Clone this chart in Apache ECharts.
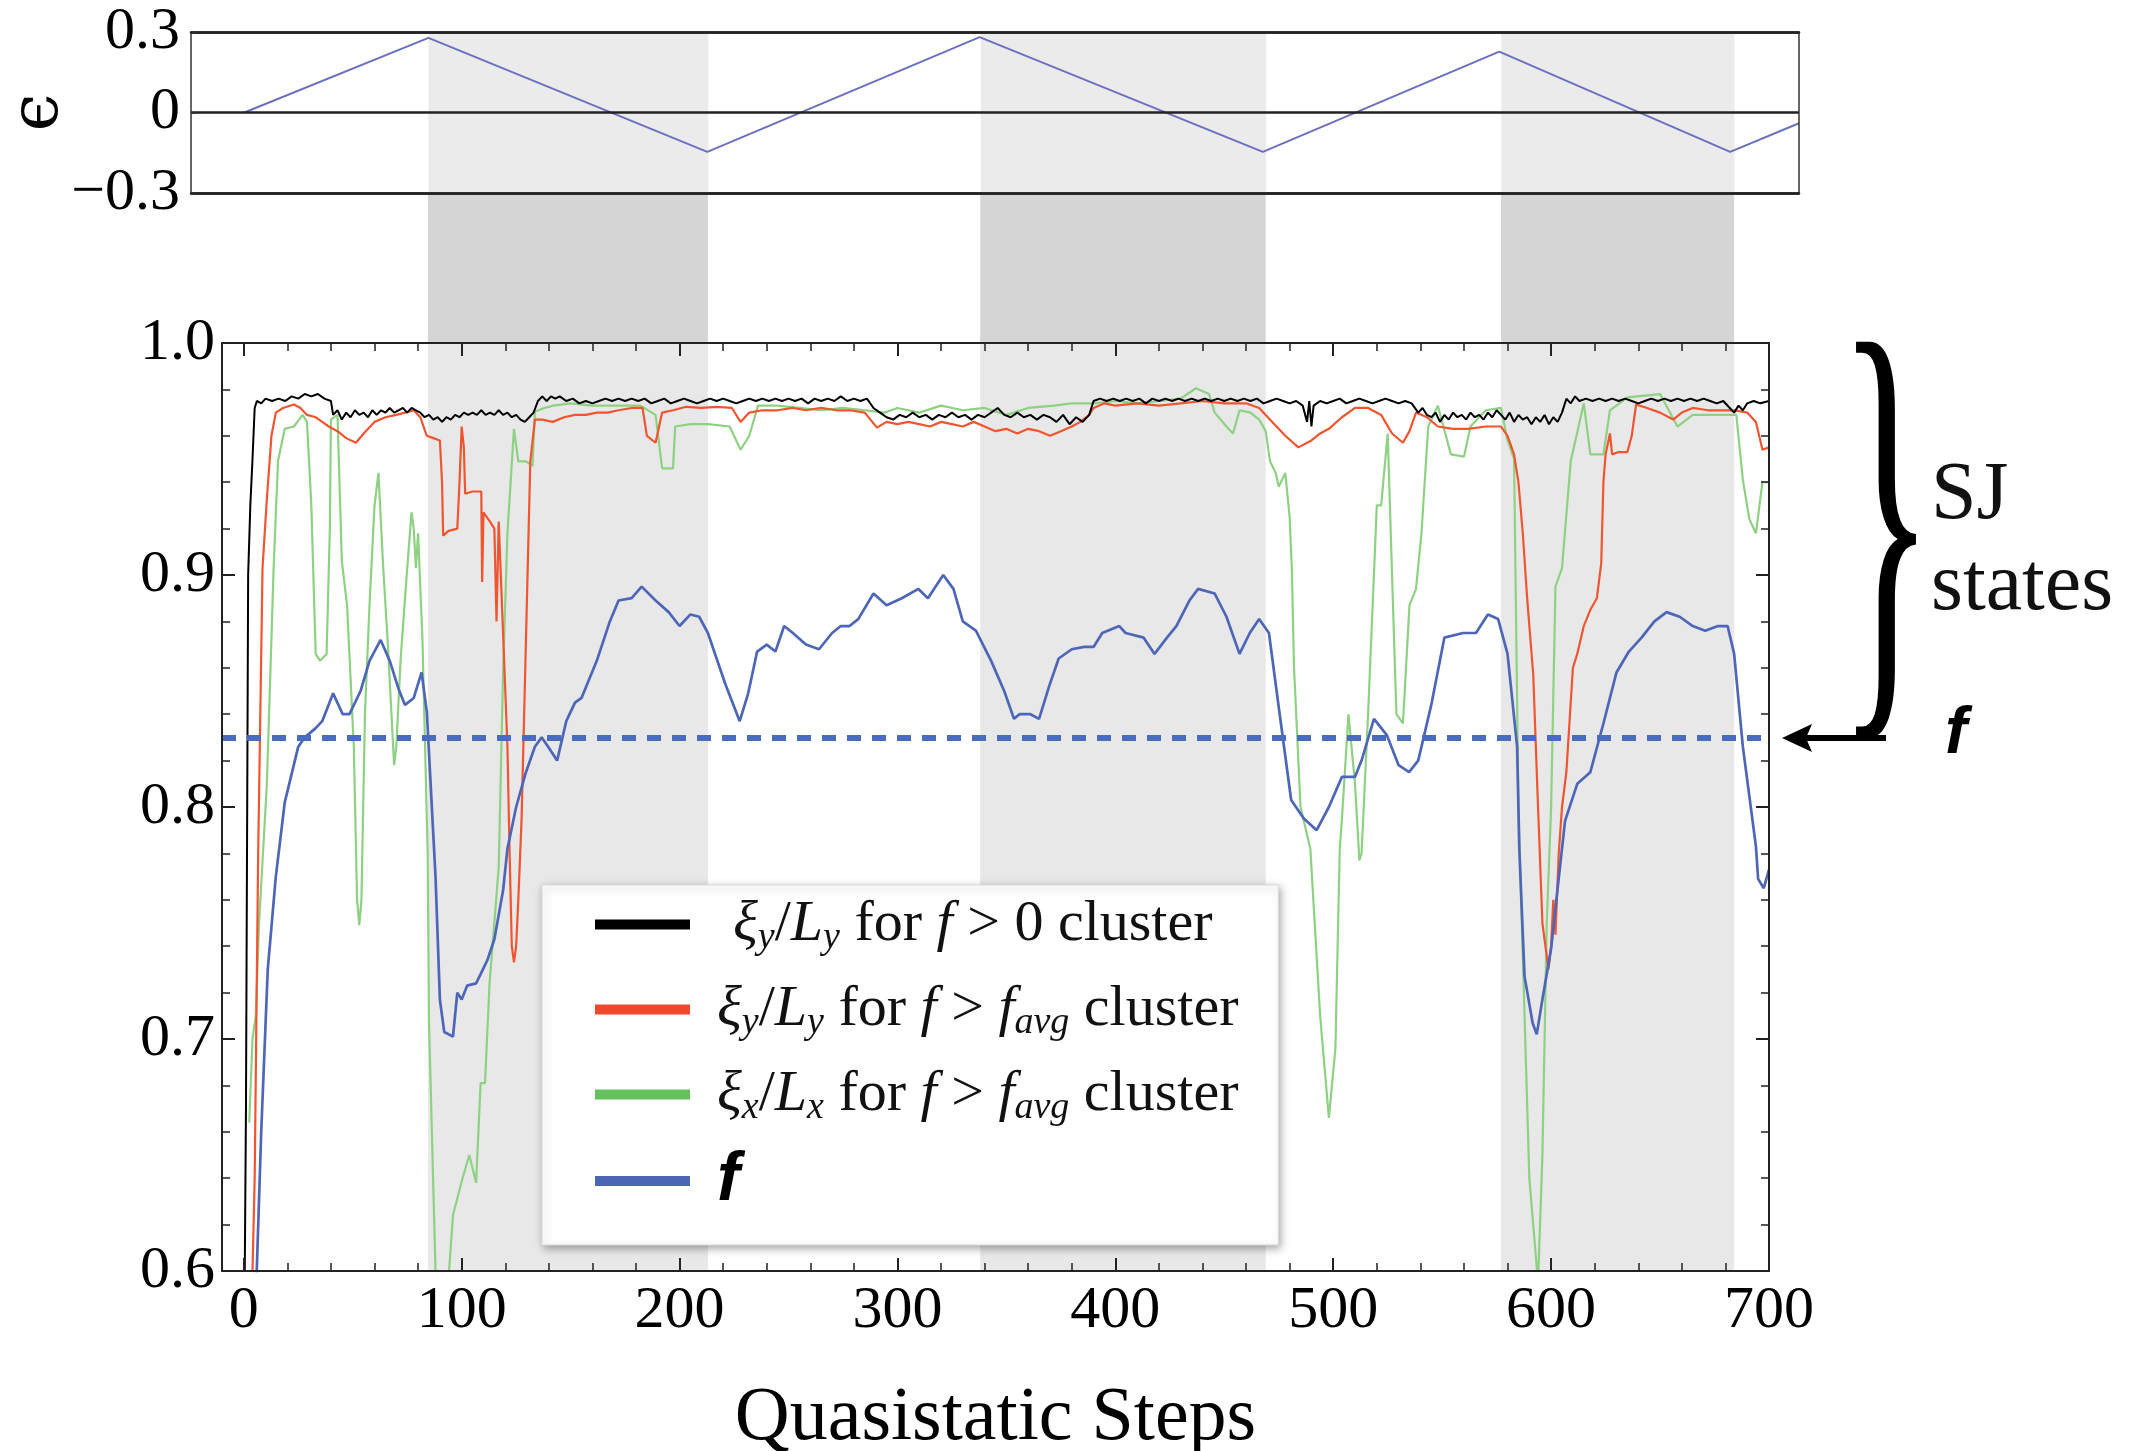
<!DOCTYPE html>
<html><head><meta charset="utf-8">
<script src="https://cdn.jsdelivr.net/npm/echarts@6/dist/echarts.min.js"></script>
<style>html,body{margin:0;padding:0;background:#fff}#c{width:2136px;height:1451px}</style>
</head><body><div id="c"></div>
<script>
// ---- data ----
const shadeBands = [[84.5, 213], [338, 469], [577, 684]];
const fAvg = 0.83;
const majorSteps = [0,100,200,300,400,500,600,700];
const minorSteps = [20,40,60,80,120,140,160,180,220,240,260,280,320,340,360,380,420,440,460,480,520,540,560,580,620,640,660,680];
const epsTicks = [-0.3, 0, 0.3];
const yTicks = [0.6, 0.7, 0.8, 0.9, 1.0];

const epsData = [[0,0],[84.5,0.278],[212.5,-0.147],[337.5,0.281],[467.5,-0.147],[576,0.227],[682,-0.147],[713.6,-0.04]];

const blackData = [[0.3,0.58],[1,0.67],[2,0.90],[3,0.93],[4,0.95],[5,0.972],[6,0.975],[8,0.974],[10,0.976],[13,0.975],[16,0.976],[19,0.975],[22,0.977],[25,0.976],[28,0.978],[31,0.977],[34,0.978],[37,0.976],[40,0.975],[41,0.969],[43,0.971],[45,0.967],[47,0.970],[49,0.968],[51,0.971],[53,0.969],[55,0.970],[57,0.968],[59,0.971],[61,0.969],[63,0.971],[65,0.970],[67,0.972],[69,0.970],[71,0.971],[73,0.972],[75,0.970],[77,0.972],[79,0.971],[81,0.970],[83,0.968],[85,0.969],[87,0.967],[89,0.968],[91,0.966],[93,0.968],[95,0.967],[97,0.969],[99,0.968],[101,0.970],[103,0.969],[105,0.970],[107,0.969],[109,0.971],[111,0.969],[113,0.970],[115,0.969],[117,0.971],[119,0.969],[121,0.970],[123,0.968],[125,0.969],[127,0.967],[129,0.966],[131,0.968],[133,0.970],[135,0.975],[137,0.977],[139,0.975],[141,0.977],[143,0.976],[145,0.977],[148,0.975],[151,0.976],[154,0.974],[157,0.975],[160,0.974],[163,0.975],[166,0.976],[169,0.975],[172,0.976],[175,0.975],[178,0.976],[181,0.975],[184,0.976],[187,0.974],[190,0.975],[193,0.976],[196,0.974],[199,0.975],[202,0.976],[205,0.975],[208,0.974],[211,0.975],[214,0.976],[217,0.975],[220,0.976],[223,0.975],[226,0.974],[229,0.975],[232,0.976],[235,0.975],[238,0.976],[241,0.975],[244,0.976],[247,0.975],[250,0.976],[253,0.975],[256,0.976],[259,0.974],[262,0.976],[265,0.975],[268,0.976],[271,0.975],[274,0.977],[277,0.975],[280,0.976],[283,0.975],[286,0.976],[289,0.972],[292,0.970],[295,0.968],[298,0.967],[301,0.969],[304,0.968],[307,0.970],[310,0.968],[313,0.969],[316,0.967],[319,0.969],[322,0.968],[325,0.970],[328,0.968],[331,0.969],[334,0.967],[337,0.969],[340,0.968],[343,0.970],[346,0.972],[349,0.969],[352,0.968],[355,0.970],[358,0.968],[361,0.969],[364,0.967],[367,0.969],[370,0.968],[373,0.966],[376,0.969],[379,0.965],[382,0.968],[385,0.966],[388,0.969],[390,0.975],[393,0.976],[396,0.975],[399,0.976],[402,0.975],[405,0.976],[408,0.975],[411,0.976],[414,0.974],[417,0.976],[420,0.975],[423,0.976],[426,0.975],[429,0.976],[432,0.975],[435,0.976],[438,0.975],[441,0.976],[444,0.975],[447,0.976],[450,0.975],[453,0.976],[456,0.975],[459,0.976],[462,0.975],[465,0.976],[468,0.974],[471,0.975],[474,0.976],[477,0.975],[480,0.974],[483,0.975],[486,0.973],[488,0.966],[489,0.975],[490,0.964],[491,0.973],[494,0.975],[497,0.974],[500,0.975],[503,0.976],[506,0.974],[509,0.975],[512,0.976],[515,0.975],[518,0.974],[521,0.975],[524,0.976],[527,0.975],[530,0.974],[533,0.975],[536,0.974],[539,0.970],[541,0.972],[543,0.969],[545,0.968],[547,0.970],[549,0.966],[551,0.969],[553,0.967],[555,0.970],[557,0.968],[559,0.969],[561,0.967],[563,0.970],[565,0.968],[567,0.969],[569,0.967],[571,0.970],[573,0.968],[575,0.971],[577,0.969],[579,0.967],[581,0.970],[583,0.966],[585,0.969],[587,0.967],[589,0.968],[591,0.965],[593,0.968],[595,0.966],[597,0.969],[599,0.965],[601,0.968],[603,0.966],[605,0.970],[607,0.976],[609,0.974],[611,0.977],[613,0.975],[616,0.976],[619,0.975],[622,0.976],[625,0.975],[628,0.976],[631,0.975],[634,0.976],[637,0.975],[640,0.974],[643,0.975],[646,0.976],[649,0.975],[652,0.976],[655,0.975],[658,0.976],[661,0.975],[664,0.976],[667,0.975],[670,0.976],[673,0.975],[676,0.974],[679,0.975],[682,0.972],[684,0.970],[686,0.973],[688,0.971],[690,0.974],[693,0.975],[696,0.974],[700,0.975]];

const redData = [[3.5,0.58],[5,0.64],[6.6,0.78],[8.6,0.903],[10.6,0.933],[12.7,0.96],[14.7,0.970],[18,0.972],[23,0.9735],[26,0.972],[29,0.969],[33,0.968],[36,0.966],[39,0.964],[43,0.962],[47,0.959],[51.5,0.957],[55,0.961],[60,0.966],[65,0.968],[70,0.969],[74,0.970],[78,0.971],[81,0.968],[84,0.960],[87,0.959],[90,0.958],[91,0.940],[91.5,0.917],[94,0.919],[98,0.920],[99,0.94],[100,0.964],[101,0.955],[101.6,0.935],[105,0.936],[109,0.936],[109.4,0.897],[110,0.927],[113,0.923],[115,0.92],[116,0.88],[117,0.923],[119,0.875],[121,0.826],[122,0.78],[123,0.74],[124,0.733],[125,0.74],[126,0.76],[127.5,0.795],[129.5,0.872],[131.5,0.949],[133.6,0.967],[137,0.967],[141.8,0.966],[147,0.968],[152,0.969],[157,0.969],[162,0.970],[167,0.970],[172,0.971],[178,0.972],[183,0.972],[185,0.960],[189,0.957],[192,0.970],[197,0.971],[203,0.9725],[210,0.972],[217,0.9725],[224,0.972],[228,0.966],[232,0.970],[238,0.971],[245,0.971],[252,0.972],[258,0.971],[265,0.972],[272,0.971],[278,0.971],[285,0.970],[290.6,0.9635],[295,0.966],[300,0.965],[305,0.966],[310,0.965],[315,0.964],[320,0.966],[325,0.965],[330,0.964],[335,0.966],[340,0.964],[345,0.962],[350,0.963],[355,0.961],[360,0.963],[365,0.962],[370,0.960],[375,0.962],[380,0.964],[384,0.966],[388,0.969],[390,0.972],[395,0.974],[400,0.973],[410,0.974],[420,0.973],[430,0.974],[440,0.975],[450,0.974],[460,0.974],[466,0.972],[472,0.966],[478,0.960],[484,0.955],[490,0.958],[494,0.961],[498,0.963],[504,0.968],[510,0.972],[516,0.972],[522,0.969],[527,0.961],[532,0.957],[535,0.962],[538,0.970],[543,0.968],[548,0.964],[555,0.963],[562,0.963],[570,0.964],[577,0.964],[580,0.960],[583,0.952],[585,0.94],[587,0.918],[589,0.89],[591.8,0.857],[594,0.80],[596,0.75],[598.8,0.73],[600,0.74],[601,0.76],[602,0.745],[603.5,0.78],[605,0.80],[607,0.815],[610,0.86],[612,0.866],[615,0.878],[618,0.885],[621,0.89],[623,0.905],[624,0.94],[625,0.952],[627,0.961],[628,0.952],[631,0.953],[635,0.953],[637,0.96],[639,0.9735],[644,0.972],[650,0.970],[656,0.967],[660,0.970],[665,0.972],[672,0.971],[678,0.971],[684,0.971],[690,0.970],[694,0.966],[697,0.954],[700,0.955]];

const greenData = [[2.5,0.664],[4,0.70],[5.5,0.71],[7,0.75],[10.6,0.81],[13.7,0.903],[15.7,0.949],[18.8,0.963],[23,0.964],[27,0.969],[29,0.966],[31,0.93],[33,0.866],[35,0.863],[38,0.866],[39.5,0.92],[40,0.967],[43,0.969],[45,0.906],[47.4,0.887],[50.5,0.826],[52,0.76],[53,0.749],[54,0.76],[55.6,0.84],[57.7,0.887],[60,0.93],[61.8,0.944],[64,0.903],[66,0.872],[69,0.818],[70,0.826],[72,0.864],[75,0.903],[77,0.927],[78,0.92],[79,0.903],[80,0.918],[82,0.872],[84.4,0.78],[85,0.707],[88,0.60],[90,0.58],[94.2,0.60],[96,0.624],[100.4,0.64],[103.5,0.65],[106.6,0.638],[108.7,0.681],[110.7,0.681],[112.8,0.724],[117,0.774],[119,0.858],[121,0.918],[124,0.963],[126,0.949],[129.5,0.949],[132.5,0.947],[133.6,0.9705],[138,0.972],[142,0.973],[150,0.974],[160,0.973],[170,0.973],[182,0.973],[189,0.969],[192,0.946],[197,0.946],[198,0.964],[205,0.965],[213,0.965],[223,0.964],[228,0.954],[232,0.960],[236,0.973],[245,0.973],[255,0.972],[265,0.971],[275,0.972],[285,0.971],[294,0.970],[300,0.972],[310,0.970],[320,0.973],[330,0.971],[340,0.972],[350,0.969],[360,0.972],[372,0.973],[380,0.974],[390,0.974],[400,0.975],[410,0.974],[420,0.975],[430,0.976],[437,0.9805],[443,0.978],[445.6,0.970],[451,0.964],[454,0.961],[457,0.971],[462,0.970],[466,0.967],[469,0.962],[471,0.949],[473.6,0.944],[475,0.938],[478,0.944],[480,0.925],[481,0.903],[482,0.86],[485,0.80],[489.5,0.782],[494,0.71],[498,0.666],[501,0.696],[503,0.782],[504,0.795],[507,0.84],[510,0.81],[512,0.777],[513,0.78],[516,0.84],[520,0.93],[522,0.93],[525,0.961],[527,0.90],[529,0.84],[532,0.836],[535,0.887],[538,0.894],[540.5,0.918],[543.6,0.964],[548,0.973],[554,0.952],[560,0.951],[563,0.964],[570,0.971],[577,0.972],[580,0.958],[583,0.95],[585,0.80],[590,0.64],[594,0.595],[596,0.65],[598,0.75],[600,0.80],[602,0.895],[605,0.903],[609,0.949],[615,0.974],[618,0.952],[624,0.952],[627,0.971],[635,0.9766],[650,0.978],[658,0.964],[665,0.969],[679,0.969],[685,0.969],[688,0.941],[691,0.924],[694,0.918],[697,0.940],[700,0.94]];

const blueData = [[5.6,0.59],[8,0.66],[11,0.73],[14.7,0.77],[18.8,0.802],[25,0.826],[28,0.83],[33,0.834],[36,0.837],[41,0.849],[45.4,0.84],[48.5,0.84],[53.6,0.85],[57.7,0.863],[62.8,0.872],[67,0.863],[71,0.851],[74,0.844],[78,0.847],[81.6,0.858],[84,0.841],[88,0.77],[90,0.717],[92,0.703],[96,0.701],[98,0.72],[100,0.717],[102.5,0.723],[106.6,0.724],[108.7,0.728],[111.8,0.734],[115,0.743],[119,0.764],[121,0.782],[125,0.80],[129.5,0.815],[133.6,0.826],[136.7,0.83],[139.7,0.826],[143.8,0.82],[148,0.837],[152,0.845],[155,0.847],[162,0.863],[168,0.88],[172,0.889],[178,0.89],[182.6,0.895],[189,0.889],[195,0.884],[200,0.878],[205,0.883],[209,0.882],[213,0.875],[217,0.864],[221,0.853],[227.6,0.837],[231.5,0.849],[235.6,0.867],[240,0.87],[244,0.867],[248,0.878],[252,0.875],[258,0.87],[264,0.868],[270,0.875],[274,0.878],[278,0.878],[282,0.881],[289,0.892],[295,0.887],[302,0.89],[309.6,0.894],[314,0.89],[321,0.90],[325.7,0.894],[330,0.88],[336,0.876],[343,0.863],[349,0.85],[353.5,0.838],[356,0.84],[361,0.84],[365,0.838],[369.6,0.852],[374,0.864],[380,0.868],[385.7,0.869],[390,0.869],[394,0.875],[401.8,0.878],[404.7,0.875],[413,0.873],[418,0.866],[423.7,0.873],[428,0.878],[434,0.889],[438,0.894],[445.6,0.892],[451,0.882],[457,0.866],[461.7,0.875],[466,0.881],[470.5,0.875],[475,0.843],[480.7,0.803],[486.5,0.795],[492.4,0.79],[498,0.80],[504,0.813],[510,0.813],[513,0.82],[518.7,0.838],[524.6,0.831],[530,0.818],[534.8,0.815],[539,0.82],[545,0.844],[551,0.873],[559.6,0.875],[565.5,0.875],[571,0.883],[575.7,0.881],[580,0.866],[584.4,0.826],[585.4,0.782],[587.8,0.727],[591.5,0.707],[593.4,0.702],[596,0.717],[600,0.739],[602.4,0.76],[606.4,0.794],[612,0.81],[618,0.815],[624,0.836],[630,0.858],[635.7,0.867],[641.5,0.873],[647.4,0.88],[653,0.884],[659,0.882],[665,0.878],[670.7,0.876],[676.6,0.878],[681,0.878],[684,0.866],[688,0.826],[694,0.783],[695,0.769],[697.6,0.765],[700,0.773]];

// ---- chart ----
const SERIF = 'Liberation Serif';
const chart = echarts.init(document.getElementById('c'), null, {renderer: 'canvas'});
const bandData = shadeBands.map(b => [{xAxis: b[0]}, {xAxis: b[1]}]);
const legendText = {
  k: '{sp1| }{i|ξ}{s|y}{n|/}{i|L}{s|y}{n| for }{i|f}{n| > 0 cluster}',
  r: '{sp| }{i|ξ}{s|y}{n|/}{i|L}{s|y}{n| for }{i|f}{n| > }{i|f}{s|avg}{n| cluster}',
  g: '{sp| }{i|ξ}{s|x}{n|/}{i|L}{s|x}{n| for }{i|f}{n| > }{i|f}{s|avg}{n| cluster}',
  b: '{sp| }{fb|f}'
};
const tickLbl = {fontFamily: SERIF, fontSize: 60, color: '#000'};

chart.setOption({
  animation: false,
  backgroundColor: '#fff',
  grid: [
    {left: 191, top: 32, width: 1608, height: 161, outerBoundsMode: 'none', containLabel: false},
    {left: 222, top: 193, width: 1547, height: 150, outerBoundsMode: 'none', containLabel: false},
    {left: 222, top: 343, width: 1547, height: 928, outerBoundsMode: 'none', containLabel: false}
  ],
  xAxis: [
    {gridIndex: 0, type: 'value', min: -24.5, max: 713.6, position: 'bottom', z: 10,
     axisLine: {show: true, onZero: false, lineStyle: {color: '#222', width: 2.5}}, axisTick: {show: false}, axisLabel: {show: false}, splitLine: {show: false}},
    {gridIndex: 0, type: 'value', min: -24.5, max: 713.6, position: 'top', z: 10,
     axisLine: {show: true, onZero: false, lineStyle: {color: '#222', width: 2.5}}, axisTick: {show: false}, axisLabel: {show: false}, splitLine: {show: false}},
    {gridIndex: 1, type: 'value', min: -10, max: 700, show: false},
    {gridIndex: 2, type: 'value', min: -10, max: 700, position: 'bottom', z: 10,
     name: 'Quasistatic Steps', nameLocation: 'middle', nameGap: 110, nameMoveOverlap: false,
     nameTextStyle: {fontFamily: SERIF, fontSize: 76, color: '#000'},
     axisLine: {show: true, onZero: false, lineStyle: {color: '#222', width: 2}},
     axisTick: {show: true, inside: true, length: 13, lineStyle: {color: '#222', width: 2}, customValues: majorSteps},
     axisLabel: Object.assign({show: true, margin: 10, customValues: majorSteps}, tickLbl),
     splitLine: {show: false}},
    {gridIndex: 2, type: 'value', min: -10, max: 700, position: 'bottom', z: 10,
     axisLine: {show: false, onZero: false}, axisLabel: {show: false}, splitLine: {show: false},
     axisTick: {show: true, inside: true, length: 8, lineStyle: {color: '#222', width: 1.5}, customValues: minorSteps}},
    {gridIndex: 2, type: 'value', min: -10, max: 700, position: 'top', z: 10,
     axisLine: {show: true, onZero: false, lineStyle: {color: '#222', width: 2}}, axisLabel: {show: false}, splitLine: {show: false},
     axisTick: {show: true, inside: true, length: 13, lineStyle: {color: '#222', width: 2}, customValues: majorSteps}},
    {gridIndex: 2, type: 'value', min: -10, max: 700, position: 'top', z: 10,
     axisLine: {show: false, onZero: false}, axisLabel: {show: false}, splitLine: {show: false},
     axisTick: {show: true, inside: true, length: 8, lineStyle: {color: '#222', width: 1.5}, customValues: minorSteps}}
  ],
  yAxis: [
    {gridIndex: 0, type: 'value', min: -0.3, max: 0.3, interval: 0.3, position: 'left', z: 10,
     name: 'ϵ', nameLocation: 'middle', nameGap: 118, nameRotate: 90, nameMoveOverlap: false,
     nameTextStyle: {fontFamily: 'DejaVu Serif', fontSize: 68, color: '#000'},
     axisLine: {show: true, onZero: false, lineStyle: {color: '#333', width: 1.5}},
     axisTick: {show: true, inside: true, length: 6, lineStyle: {color: '#333', width: 1.5}},
     axisLabel: Object.assign({show: true, margin: 11, formatter: v => (Math.abs(v) < 1e-9 ? '0' : (v < 0 ? '−' + Math.abs(v).toFixed(1) : v.toFixed(1)))}, tickLbl),
     splitLine: {show: true, lineStyle: {color: '#222', width: 2.5}}},
    {gridIndex: 0, type: 'value', min: -0.3, max: 0.3, interval: 0.3, position: 'right', z: 10,
     axisLine: {show: true, onZero: false, lineStyle: {color: '#333', width: 1.5}}, axisTick: {show: false}, axisLabel: {show: false}, splitLine: {show: false}},
    {gridIndex: 1, type: 'value', min: 0, max: 1, show: false},
    {gridIndex: 2, type: 'value', min: 0.6, max: 1.0, interval: 0.1, position: 'left', z: 10,
     axisLine: {show: true, onZero: false, lineStyle: {color: '#222', width: 2}},
     axisTick: {show: true, inside: true, length: 13, lineStyle: {color: '#222', width: 2}},
     minorTick: {show: true, splitNumber: 5, length: 8, lineStyle: {color: '#222', width: 1.5}},
     axisLabel: Object.assign({show: true, margin: 7, formatter: v => v.toFixed(1)}, tickLbl),
     splitLine: {show: false}},
    {gridIndex: 2, type: 'value', min: 0.6, max: 1.0, interval: 0.1, position: 'right', z: 10,
     axisLine: {show: true, onZero: false, lineStyle: {color: '#222', width: 2}},
     axisTick: {show: true, inside: true, length: 13, lineStyle: {color: '#222', width: 2}},
     minorTick: {show: true, splitNumber: 5, length: 8, lineStyle: {color: '#222', width: 1.5}},
     axisLabel: {show: false}, splitLine: {show: false}}
  ],
  legend: {
    orient: 'vertical', left: 542, top: 885,
    padding: [7, 40, 30, 53], itemGap: 20, itemWidth: 95, itemHeight: 10,
    backgroundColor: '#fff', borderColor: '#d8d8d8', borderWidth: 1,
    shadowBlur: 8, shadowColor: 'rgba(0,0,0,0.35)', shadowOffsetX: 2, shadowOffsetY: 3,
    selectedMode: false,
    data: [
      {name: 'k', icon: 'rect', itemStyle: {color: '#000000'}},
      {name: 'r', icon: 'rect', itemStyle: {color: '#f0482c'}},
      {name: 'g', icon: 'rect', itemStyle: {color: '#64c25a'}},
      {name: 'b', icon: 'rect', itemStyle: {color: '#4a66b4'}}
    ],
    formatter: name => legendText[name],
    textStyle: {
      fontFamily: SERIF, fontSize: 58, color: '#111',
      rich: {
        n: {fontFamily: SERIF, fontSize: 58, lineHeight: 65, color: '#111'},
        i: {fontFamily: SERIF, fontStyle: 'italic', fontSize: 58, lineHeight: 65, color: '#111'},
        s: {fontFamily: SERIF, fontStyle: 'italic', fontSize: 38, lineHeight: 38, padding: [27, 0, 0, 0], verticalAlign: 'top', color: '#111'},
        sp: {width: 22, fontSize: 20},
        sp1: {width: 38, fontSize: 20},
        fb: {fontFamily: 'Liberation Sans', fontStyle: 'italic', fontWeight: 'bold', fontSize: 68, lineHeight: 65, color: '#000'}
      }
    }
  },
  series: [
    {type: 'line', xAxisIndex: 0, yAxisIndex: 0, data: [], silent: true,
     markArea: {silent: true, itemStyle: {color: '#ebebeb'}, data: bandData}},
    {type: 'line', name: 'eps', xAxisIndex: 0, yAxisIndex: 0, data: epsData, showSymbol: false, silent: true,
     lineStyle: {color: '#6b6fc0', width: 2}, itemStyle: {color: '#6b6fc0'}},
    {type: 'line', xAxisIndex: 2, yAxisIndex: 2, data: [], silent: true,
     markArea: {silent: true, itemStyle: {color: '#d5d5d5'}, data: bandData}},
    {type: 'line', xAxisIndex: 3, yAxisIndex: 3, data: [], silent: true,
     markArea: {silent: true, itemStyle: {color: '#e8e8e8'}, data: bandData}},
    {type: 'line', name: 'g', xAxisIndex: 3, yAxisIndex: 3, data: greenData, showSymbol: false, silent: true,
     lineStyle: {color: '#8ed183', width: 2.2}, itemStyle: {color: '#64c25a'}},
    {type: 'line', name: 'r', xAxisIndex: 3, yAxisIndex: 3, data: redData, showSymbol: false, silent: true,
     lineStyle: {color: '#f0552f', width: 2.2}, itemStyle: {color: '#f0482c'}},
    {type: 'line', name: 'k', xAxisIndex: 3, yAxisIndex: 3, data: blackData, showSymbol: false, silent: true,
     lineStyle: {color: '#000', width: 2}, itemStyle: {color: '#000'}},
    {type: 'line', name: 'b', xAxisIndex: 3, yAxisIndex: 3, data: blueData, showSymbol: false, silent: true,
     lineStyle: {color: '#4d66b8', width: 2.7}, itemStyle: {color: '#4a66b4'},
     markLine: {silent: true, symbol: 'none', label: {show: false},
       lineStyle: {color: '#4a6cc0', width: 6, type: [14, 11]},
       data: [{yAxis: fAvg}]}}
  ],
  graphic: [
    {type: 'text', x: 1886, y: 548, scaleX: 0.42, z: 20,
     style: {text: '}', fontFamily: SERIF, fontSize: 478, fill: '#000', align: 'center', verticalAlign: 'middle', textAlign: 'center', textVerticalAlign: 'middle'}},
    {type: 'text', x: 1931, y: 496, z: 20,
     style: {text: 'SJ', fontFamily: SERIF, fontSize: 82, fill: '#111', align: 'left', verticalAlign: 'middle', textAlign: 'left', textVerticalAlign: 'middle'}},
    {type: 'text', x: 1931, y: 587, z: 20,
     style: {text: 'states', fontFamily: SERIF, fontSize: 82, fill: '#111', align: 'left', verticalAlign: 'middle', textAlign: 'left', textVerticalAlign: 'middle'}},
    {type: 'line', z: 20, shape: {x1: 1886, y1: 738, x2: 1800, y2: 738}, style: {stroke: '#000', lineWidth: 6}},
    {type: 'polygon', z: 20, shape: {points: [[1782, 738], [1812, 724], [1806, 738], [1812, 752]]}, style: {fill: '#000'}},
    {type: 'text', x: 1956, y: 735, z: 20,
     style: {text: 'f', fontFamily: 'Liberation Sans', fontStyle: 'italic', fontWeight: 'bold', fontSize: 66, fill: '#000', align: 'center', verticalAlign: 'middle', textAlign: 'center', textVerticalAlign: 'middle'}}
  ]
});
</script></body></html>
